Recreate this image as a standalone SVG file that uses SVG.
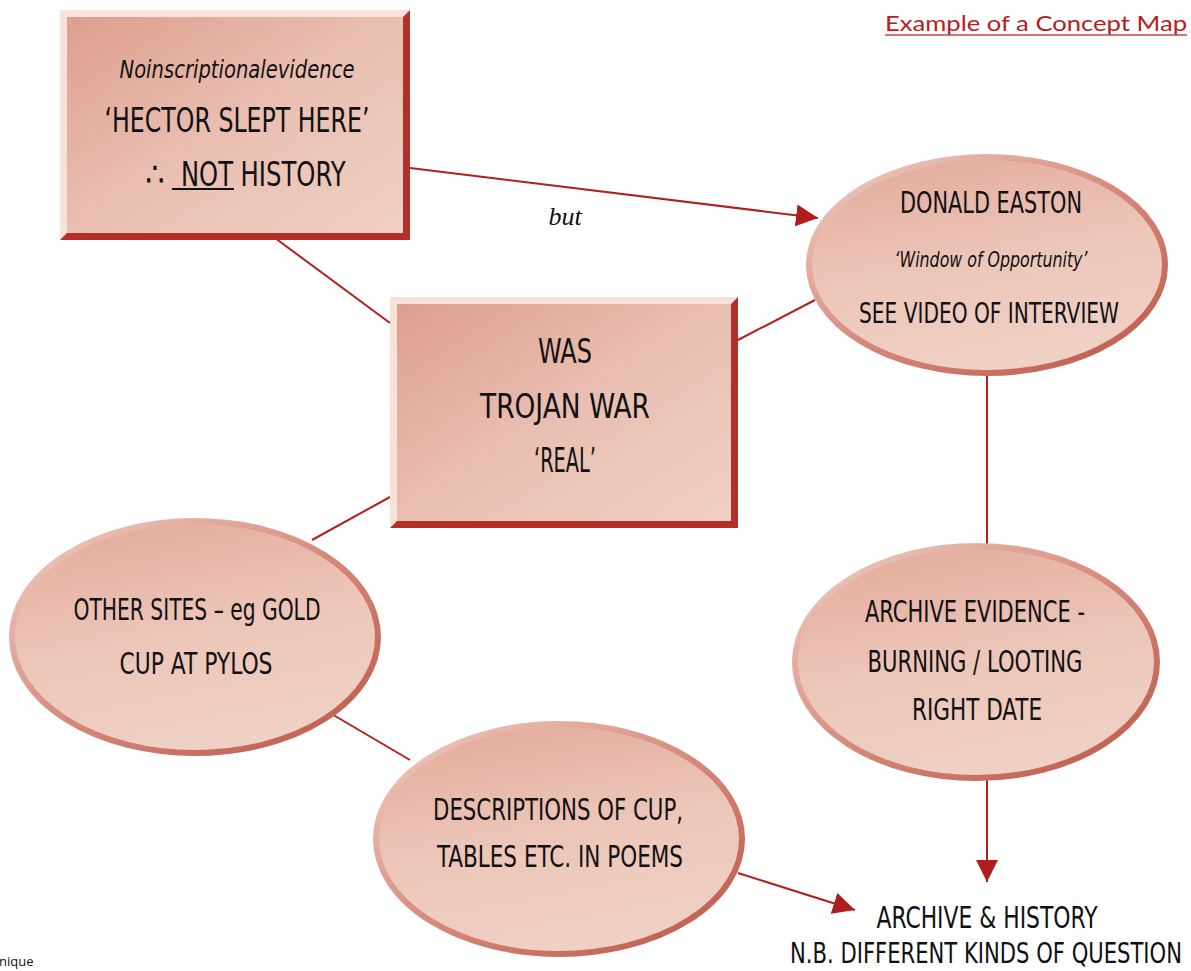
<svg xmlns="http://www.w3.org/2000/svg" width="1191" height="971" viewBox="0 0 1191 971">
<style>
.t{font-family:"DejaVu Sans Condensed","Liberation Sans Narrow","Liberation Sans",sans-serif;fill:#111;text-anchor:middle}
.c{stroke:#b2201e;stroke-width:2;fill:none}
.face{fill:url(#gb)}
.lite{fill:#f6e2da}
.dark{fill:#b3302a}
.ell{fill:url(#ge);stroke:url(#gs);stroke-width:6}
</style>
<defs>
<linearGradient id="gb" x1="0" y1="0" x2="1" y2="1">
<stop offset="0" stop-color="#dd9f8f"/>
<stop offset="0.5" stop-color="#e9bfb1"/>
<stop offset="1" stop-color="#efd0c4"/>
</linearGradient>
<linearGradient id="ge" x1="0" y1="0" x2="0.3" y2="1">
<stop offset="0" stop-color="#e2a898"/>
<stop offset="0.55" stop-color="#ecc5b8"/>
<stop offset="1" stop-color="#efd0c4"/>
</linearGradient>
<linearGradient id="gs" x1="0" y1="0" x2="1" y2="1">
<stop offset="0" stop-color="#f0d2c6"/>
<stop offset="0.5" stop-color="#d68a7c"/>
<stop offset="1" stop-color="#bb5648"/>
</linearGradient>
<marker id="ah" markerUnits="userSpaceOnUse" markerWidth="24" markerHeight="22" refX="22" refY="11" orient="auto">
<path d="M0,0 L22,11 L0,22 Z" fill="#b01c1c"/>
</marker>
</defs>

<text x="1036" y="31" font-family="Lato,'Open Sans',sans-serif" font-size="21" fill="#b52020" text-anchor="middle" textLength="302" lengthAdjust="spacingAndGlyphs">Example of a Concept Map</text>
<line x1="885" y1="35" x2="1187" y2="35" stroke="#c44" stroke-width="1.5"/>
<text x="-1" y="966" font-family="'Open Sans',sans-serif" font-size="13" fill="#111">nique</text>

<g id="connectors">
<line class="c" x1="410" y1="168" x2="818" y2="218" marker-end="url(#ah)"/>
<line class="c" x1="275" y1="238" x2="390" y2="323"/>
<line class="c" x1="738" y1="340" x2="815" y2="300"/>
<line class="c" x1="987" y1="376" x2="987" y2="545"/>
<line class="c" x1="390" y1="497" x2="312" y2="540"/>
<line class="c" x1="330" y1="713" x2="410" y2="760"/>
<line class="c" x1="987" y1="780" x2="987" y2="882" marker-end="url(#ah)"/>
<line class="c" x1="738" y1="873" x2="855" y2="910" marker-end="url(#ah)"/>
<text x="565" y="225" font-family="'Liberation Serif',serif" font-style="italic" font-size="26" fill="#111" text-anchor="middle">but</text>
</g>

<g id="box-hector">
<rect class="dark" x="60" y="10" width="350" height="230"/>
<polygon class="lite" points="60,10 410,10 403,17 67,17 67,233 60,240"/>
<rect class="face" x="67" y="17" width="336" height="216"/>
<text class="t" x="237" y="78" font-size="24" font-style="italic" textLength="235" lengthAdjust="spacingAndGlyphs">Noinscriptionalevidence</text>
<text class="t" x="237" y="132" font-size="34" textLength="265" lengthAdjust="spacingAndGlyphs">‘HECTOR SLEPT HERE’</text>
<text class="t" x="155" y="186" font-size="34">∴</text>
<text class="t" x="207" y="186" font-size="34" textLength="52" lengthAdjust="spacingAndGlyphs">NOT</text>
<text class="t" x="293" y="186" font-size="34" textLength="105" lengthAdjust="spacingAndGlyphs">HISTORY</text>
<line x1="172" y1="189" x2="234" y2="189" stroke="#111" stroke-width="2"/>
</g>

<g id="box-trojan">
<rect class="dark" x="390" y="297" width="348" height="231"/>
<polygon class="lite" points="390,297 738,297 731,304 397,304 397,521 390,528"/>
<rect class="face" x="397" y="304" width="334" height="217"/>
<text class="t" x="565" y="363" font-size="34" textLength="54" lengthAdjust="spacingAndGlyphs">WAS</text>
<text class="t" x="565" y="418" font-size="34" textLength="170" lengthAdjust="spacingAndGlyphs">TROJAN WAR</text>
<text class="t" x="565" y="472" font-size="34" textLength="62" lengthAdjust="spacingAndGlyphs">‘REAL’</text>
</g>

<g id="ell-easton">
<ellipse class="ell" cx="987" cy="265" rx="178" ry="108"/>
<text class="t" x="991" y="213" font-size="30" textLength="182" lengthAdjust="spacingAndGlyphs">DONALD EASTON</text>
<text class="t" x="991" y="267" font-size="22" font-style="italic" textLength="193" lengthAdjust="spacingAndGlyphs">‘Window of Opportunity’</text>
<text class="t" x="989" y="323" font-size="29" textLength="260" lengthAdjust="spacingAndGlyphs">SEE VIDEO OF INTERVIEW</text>
</g>

<g id="ell-other">
<ellipse class="ell" cx="195" cy="637" rx="183" ry="116"/>
<text class="t" x="197" y="620" font-size="30" textLength="247" lengthAdjust="spacingAndGlyphs">OTHER SITES – eg GOLD</text>
<text class="t" x="196" y="674" font-size="30" textLength="153" lengthAdjust="spacingAndGlyphs">CUP AT PYLOS</text>
</g>

<g id="ell-archive">
<ellipse class="ell" cx="976" cy="662" rx="181" ry="116"/>
<text class="t" x="975" y="622" font-size="30" textLength="220" lengthAdjust="spacingAndGlyphs">ARCHIVE EVIDENCE -</text>
<text class="t" x="975" y="672" font-size="30" textLength="215" lengthAdjust="spacingAndGlyphs">BURNING / LOOTING</text>
<text class="t" x="977" y="720" font-size="30" textLength="130" lengthAdjust="spacingAndGlyphs">RIGHT DATE</text>
</g>

<g id="ell-descriptions">
<ellipse class="ell" cx="559" cy="839" rx="183" ry="115"/>
<text class="t" x="558" y="820" font-size="30" textLength="250" lengthAdjust="spacingAndGlyphs">DESCRIPTIONS OF CUP,</text>
<text class="t" x="560" y="867" font-size="30" textLength="246" lengthAdjust="spacingAndGlyphs">TABLES ETC. IN POEMS</text>
</g>

<g id="node-final">
<text class="t" x="987" y="928" font-size="30" textLength="221" lengthAdjust="spacingAndGlyphs">ARCHIVE &amp; HISTORY</text>
<text class="t" x="986" y="963" font-size="29" textLength="392" lengthAdjust="spacingAndGlyphs">N.B. DIFFERENT KINDS OF QUESTION</text>
</g>
</svg>
